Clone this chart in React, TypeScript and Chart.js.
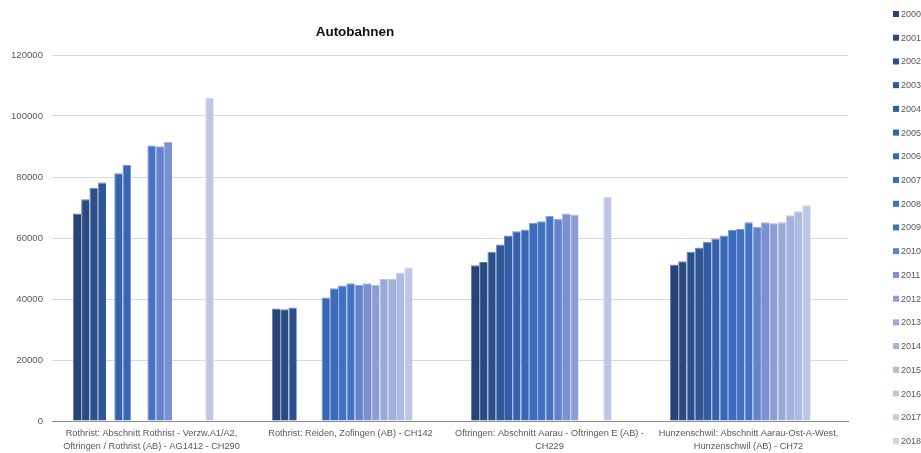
import React, { useEffect, useRef } from "react";
import { Chart, registerables } from "chart.js";

Chart.register(...registerables);

const chartTitle = "Autobahnen";

const categories: (string | string[])[] = [
  ["Rothrist: Abschnitt Rothrist - Verzw.A1/A2,", "Oftringen / Rothrist (AB) - AG1412 - CH290"],
  "Rothrist: Reiden, Zofingen (AB) - CH142",
  ["Oftringen: Abschnitt Aarau - Oftringen E (AB) -", "CH229"],
  ["Hunzenschwil: Abschnitt Aarau-Ost-A-West,", "Hunzenschwil (AB) - CH72"],
];

const years = [
  "2000", "2001", "2002", "2003", "2004", "2005", "2006", "2007", "2008", "2009",
  "2010", "2011", "2012", "2013", "2014", "2015", "2016", "2017", "2018",
];

// values per year for the four categories
const v2000 = [68000, 36850, 51050, 51300];
const v2001 = [72700, 36600, 52100, 52350];
const v2002 = [76500, 37200, 55500, 55500];
const v2003 = [78200, null, 57900, 56850];
const v2004 = [null, null, 60800, 58800];
const v2005 = [81200, null, 62200, 59800];
const v2006 = [83900, 40460, 62750, 60800];
const v2007 = [null, 43500, 64900, 62600];
const v2008 = [null, 44400, 65500, 62950];
const v2009 = [90300, 45150, 67300, 65150];
const v2010 = [90100, 44600, 66350, 63700];
const v2011 = [91500, 45150, 68000, 65150];
const v2012 = [null, 44600, 67700, 64800];
const v2013 = [null, 46550, null, 65150];
const v2014 = [null, 46550, null, 67450];
const v2015 = [null, 48650, null, 68750];
const v2016 = [105900, 50300, 73450, 70700];
const v2017 = [null, null, null, null];
const v2018 = [null, null, null, null];

const seriesValues = [
  v2000, v2001, v2002, v2003, v2004, v2005, v2006, v2007, v2008, v2009,
  v2010, v2011, v2012, v2013, v2014, v2015, v2016, v2017, v2018,
];

const yMin = 0;
const yMax = 120000;
const yStep = 20000;

const seriesColors = [
  "#264478", "#294a83", "#2c508e", "#2f5698", "#335ca3", "#3662ad", "#3a67b5",
  "#3d6cbc", "#4170c1", "#4472c4", "#6482ca", "#7a93d0", "#8a9fd4", "#97aad8",
  "#a2b3dc", "#adbce0", "#bcc6e5", "#c5cde8", "#cfd6ec",
];

const FONT = "'Liberation Sans', Arial, sans-serif";

function tint(hex: string, amt: number): string {
  const n = parseInt(hex.slice(1), 16);
  const r = (n >> 16) & 255;
  const g = (n >> 8) & 255;
  const b = n & 255;
  const m = (c: number) => Math.round(c + (255 - c) * amt);
  return `rgb(${m(r)},${m(g)},${m(b)})`;
}

export default function App() {
  const ref = useRef<HTMLCanvasElement>(null);

  useEffect(() => {
    if (!ref.current) return;

    const titlePlugin = {
      id: "customTitle",
      afterDraw(chart: any) {
        const ctx = chart.ctx;
        ctx.save();
        ctx.font = `bold 13.5px ${FONT}`;
        ctx.fillStyle = "#111111";
        ctx.textAlign = "center";
        ctx.textBaseline = "middle";
        ctx.fillText(chartTitle, 355, 32);
        ctx.restore();
      },
    };

    const legendPlugin = {
      id: "sideLegend",
      afterDraw(chart: any) {
        const ctx = chart.ctx;
        ctx.save();
        ctx.font = `9px ${FONT}`;
        ctx.textAlign = "left";
        ctx.textBaseline = "middle";
        chart.data.datasets.forEach((ds: any, i: number) => {
          const cy = 14 + i * 23.72;
          ctx.fillStyle = seriesColors[i];
          ctx.fillRect(893, cy - 3, 6, 6);
          ctx.fillStyle = "#595959";
          ctx.fillText(ds.label, 901, cy + 0.5);
        });
        ctx.restore();
      },
    };

    const chart = new Chart(ref.current, {
      type: "bar",
      data: {
        labels: categories,
        datasets: years.map((y, i) => ({
          label: y,
          data: seriesValues[i],
          backgroundColor: seriesColors[i],
          borderColor: tint(seriesColors[i], 0.3),
          borderWidth: { top: 1, left: 1, right: 0, bottom: 0 },
          borderSkipped: "bottom",
          categoryPercentage: 0.79,
          barPercentage: 1.0,
        })),
      },
      options: {
        animation: false,
        responsive: false,
        devicePixelRatio: 1,
        layout: { padding: { top: 55, right: 73, bottom: 0, left: 0 } },
        plugins: {
          legend: { display: false },
          title: { display: false },
          tooltip: { enabled: false },
        },
        scales: {
          x: {
            grid: { display: false, drawTicks: false },
            border: { display: true, color: "#8c8c8c", width: 1 },
            ticks: {
              color: "#595959",
              font: { family: FONT, size: 9.2, lineHeight: 1.42 },
              padding: 6,
              maxRotation: 0,
              autoSkip: false,
            },
            afterFit: (scale: any) => {
              scale.height = 32;
            },
          },
          y: {
            min: yMin,
            max: yMax,
            grid: {
              color: (c: any) => (c.tick && c.tick.value === 0 ? "#8c8c8c" : "#d9d9d9"),
              lineWidth: 1,
              drawTicks: false,
            },
            border: { display: false },
            ticks: {
              stepSize: yStep,
              color: "#595959",
              font: { family: FONT, size: 9.6 },
              padding: 9,
              callback: (v: any) => String(v),
            },
            afterFit: (scale: any) => {
              scale.width = 52;
            },
          },
        },
      },
      plugins: [titlePlugin, legendPlugin],
    });

    return () => chart.destroy();
  }, []);

  return (
    <div style={{ position: "absolute", left: 0, top: 0, width: 921, height: 453 }}>
      <canvas ref={ref} width={921} height={453} style={{ display: "block", width: 921, height: 453 }} />
    </div>
  );
}
